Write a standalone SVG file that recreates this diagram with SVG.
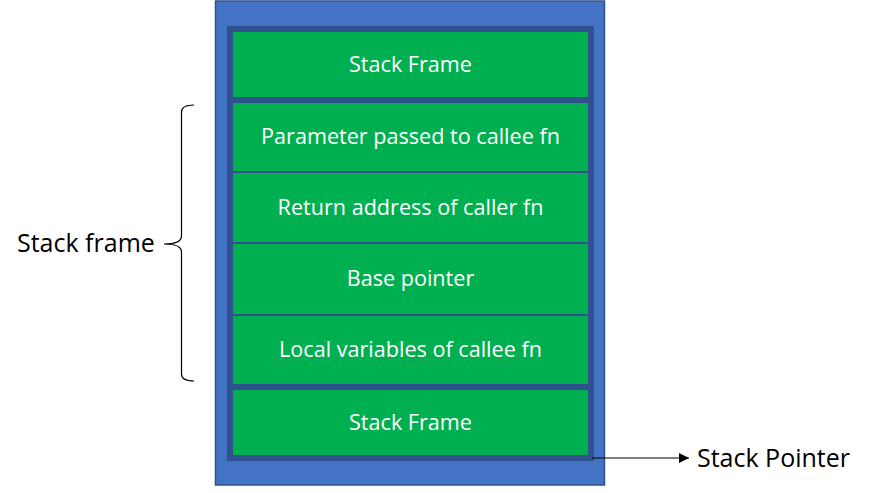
<svg xmlns="http://www.w3.org/2000/svg" width="876" height="493" viewBox="0 0 876 493">
  <defs>
    <style>
      .green { fill: #00B050; }
      .cell text { font-family: "Open Sans", "Liberation Sans", sans-serif; font-size: 21.6px; fill: #FFFFFF; text-anchor: middle; }
      .label { font-family: "Open Sans", "Liberation Sans", sans-serif; font-size: 25px; fill: #000000; }
      .conn { fill: none; stroke: #000000; stroke-width: 1.2; }
    </style>
    <marker id="arrow" viewBox="0 0 10 10" refX="10" refY="5" markerWidth="10" markerHeight="10" markerUnits="userSpaceOnUse" orient="auto">
      <path d="M0,0 L10,5 L0,10 Z" fill="#000000"/>
    </marker>
  </defs>
  <rect width="876" height="493" fill="#FFFFFF"/>
  <g id="outer-stack">
    <rect x="215.5" y="1" width="389" height="484" fill="#4472C4" stroke="#2F528F" stroke-width="1.5"/>
    <rect x="227" y="26" width="367" height="435" fill="#2F528F"/>
  </g>
  <g id="frame-top" class="cell">
    <rect class="green" x="233" y="32" width="355" height="65"/>
    <text x="410.5" y="72">Stack Frame</text>
  </g>
  <g id="param" class="cell">
    <rect class="green" x="233" y="103" width="355" height="68"/>
    <text x="410.5" y="144">Parameter passed to callee fn</text>
  </g>
  <g id="return" class="cell">
    <rect class="green" x="233" y="173" width="355" height="69"/>
    <text x="410.5" y="215">Return address of caller fn</text>
  </g>
  <g id="base" class="cell">
    <rect class="green" x="233" y="244" width="355" height="70"/>
    <text x="410.5" y="286">Base pointer</text>
  </g>
  <g id="locals" class="cell">
    <rect class="green" x="233" y="316" width="355" height="68"/>
    <text x="410.5" y="357">Local variables of callee fn</text>
  </g>
  <g id="frame-bottom" class="cell">
    <rect class="green" x="233" y="390" width="355" height="65"/>
    <text x="410.5" y="430">Stack Frame</text>
  </g>
  <g id="stack-frame-label">
    <text class="label" x="17" y="252">Stack frame</text>
  </g>
  <g id="stack-pointer-label">
    <text class="label" x="697" y="467">Stack Pointer</text>
  </g>
  <g id="connectors">
    <path class="conn" d="M194,105 Q181.5,105 181.5,112 L181.5,236 Q181.5,244 164,244 Q181.5,244 181.5,252 L181.5,374 Q181.5,381 194,381"/>
    <line class="conn" x1="592" y1="458" x2="689" y2="458" marker-end="url(#arrow)"/>
  </g>
</svg>
